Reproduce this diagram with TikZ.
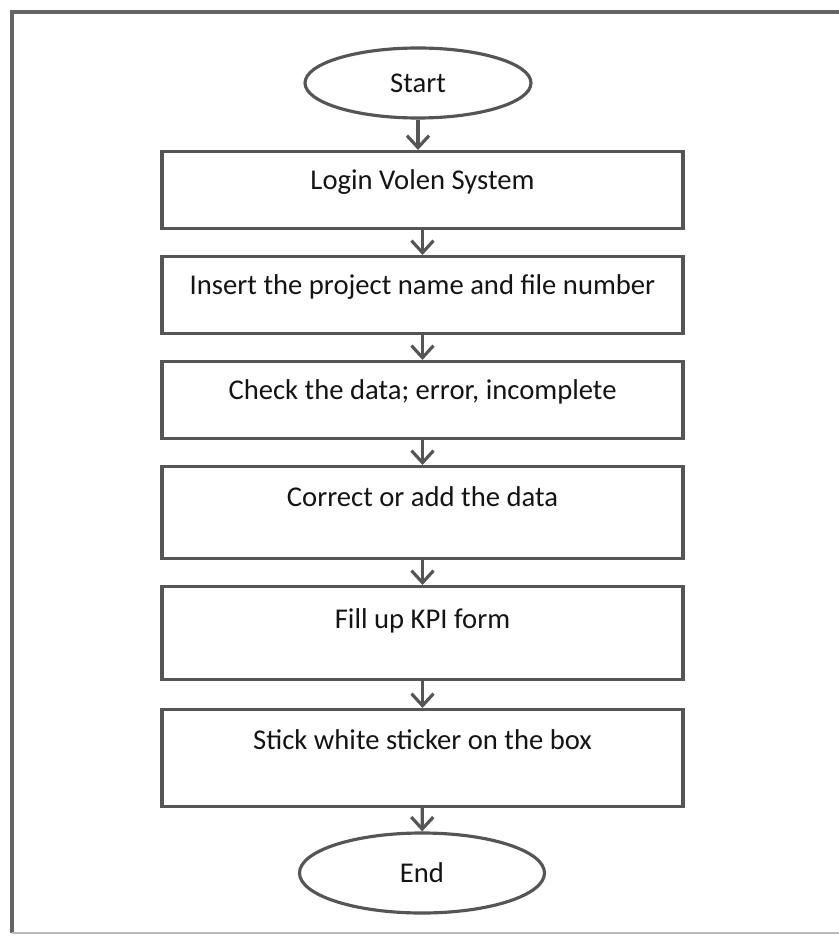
\documentclass[tikz,border=0pt]{standalone}
\usepackage{xcolor}
\usepackage{fontspec}
\setmainfont{Carlito}
\usepackage{tikz}
\usetikzlibrary{shapes.geometric}
\usetikzlibrary{arrows.meta}

\definecolor{lineGray}{RGB}{85,85,85}
\definecolor{frameGray}{RGB}{100,100,100}
\definecolor{inkDark}{RGB}{20,20,20}

\tikzset{
    stepbox/.style={draw=lineGray, line width=1.8pt, rectangle, anchor=north,
        minimum width=10.42cm, inner ysep=0.45cm, text height=0.3cm,
        text=inkDark, font=\fontsize{16.3}{18}\selectfont},
    terminal/.style={draw=lineGray, line width=1.8pt, ellipse, inner sep=0pt,
        text=inkDark, font=\fontsize{16.3}{18}\selectfont},
    flow/.style={draw=lineGray, line width=1.8pt,
        -{Straight Barb[length=2.4mm, width=4.4mm, line width=1.8pt]}}
}

\begin{document}
\begin{tikzpicture}
            \useasboundingbox (0,0) rectangle (16.78,-18.74);
            \draw[frameGray, line width=2pt] (16.78,-0.24) -- (0.24,-0.24) -- (0.24,-18.66);
            \draw[frameGray!45, line width=1.2pt] (0.24,-18.66) -- (16.78,-18.66);

            \node[terminal, minimum width=4.52cm, minimum height=1.4cm] (start) at (8.36,-1.66) {Start};

            \node[stepbox, text depth=0.34cm] (login) at (8.45,-3.00) {Login Volen System};
            \node[stepbox, text depth=0.34cm] (insert) at (8.45,-5.10) {Insert the project name and file number};
            \node[stepbox, text depth=0.34cm] (check) at (8.45,-7.20) {Check the data; error, incomplete};
            \node[stepbox, inner ysep=0.5cm, text depth=0.54cm] (correct) at (8.45,-9.30) {Correct or add the data};
            \node[stepbox, inner ysep=0.53cm, text depth=0.50cm] (fill) at (8.45,-11.70) {Fill up KPI form};
            \node[stepbox, inner ysep=0.5cm, text depth=0.64cm] (stick) at (8.45,-14.16) {Stick white sticker on the box};

            \node[terminal, minimum width=4.9cm, minimum height=1.6cm] (end) at (8.44,-17.46) {End};

            \draw[flow] (start.south) -- (start.south |- login.north);
            \draw[flow] (login) -- (insert);
            \draw[flow] (insert) -- (check);
            \draw[flow] (check) -- (correct);
            \draw[flow] (correct) -- (fill);
            \draw[flow] (fill) -- (stick);
            \draw[flow] (stick) -- (end);
\end{tikzpicture}
\end{document}
